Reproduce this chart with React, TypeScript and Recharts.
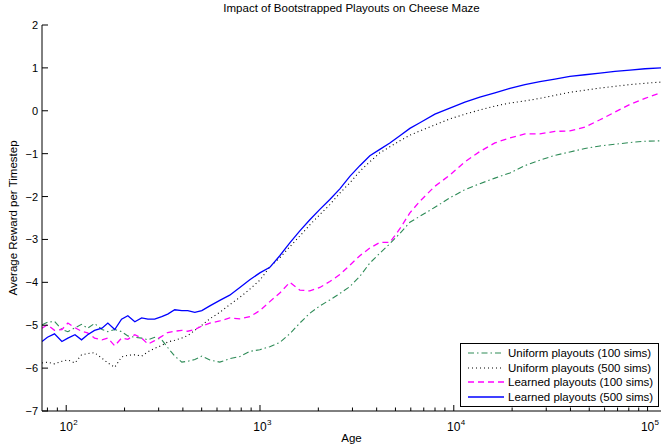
import React from 'react';
import { LineChart, Line, XAxis, YAxis, Legend } from 'recharts';

// agents' age (log scale) and average reward per timestep for each setup
const ages = [
  75, 80, 87, 95, 102, 111, 120, 129, 140, 153,
  164, 178, 193, 208, 226, 245, 264, 286, 311, 334,
  363, 395, 424, 461, 501, 551, 620, 698, 787, 886,
  998, 1124, 1265, 1425, 1605, 1808, 2036, 2293, 2582, 2908,
  3275, 3689, 4154, 4679, 5269, 5935, 6683, 7989, 9546, 11410,
  13630, 16300, 19480, 23280, 27820, 33250, 39740, 47510, 56790, 67870,
  81120, 96970, 117300,
];

const uniform100 = [
  -4.99, -4.93, -4.91, -5.1, -5.15, -5.06, -4.98, -5.07, -4.96, -5.1,
  -5.15, -5.1, -5.15, -5.25, -5.28, -5.3, -5.34, -5.28, -5.34, -5.52,
  -5.72, -5.86, -5.84, -5.8, -5.72, -5.81, -5.86, -5.78, -5.73, -5.61,
  -5.57, -5.5, -5.4, -5.2, -4.95, -4.72, -4.55, -4.41, -4.26, -4.1,
  -3.86, -3.55, -3.32, -3.1, -2.86, -2.6, -2.46, -2.25, -2.03, -1.84,
  -1.7, -1.57, -1.45, -1.28, -1.15, -1.04, -0.96, -0.88, -0.82, -0.78,
  -0.74, -0.71, -0.7,
];

const uniform500 = [
  -5.88, -5.86, -5.9, -5.84, -5.81, -5.88, -5.69, -5.66, -5.64, -5.77,
  -5.88, -5.98, -5.74, -5.7, -5.69, -5.72, -5.62, -5.54, -5.47, -5.39,
  -5.35, -5.3, -5.24, -5.12, -5.0, -4.85, -4.7, -4.52, -4.35, -4.16,
  -3.95, -3.64, -3.43, -3.17, -2.92, -2.66, -2.42, -2.19, -1.92, -1.68,
  -1.41, -1.19, -0.98, -0.84, -0.7, -0.57, -0.47, -0.33, -0.19, -0.08,
  0.02, 0.11, 0.18, 0.23, 0.29, 0.36, 0.43, 0.48, 0.53, 0.57,
  0.61, 0.64, 0.67,
];

const learned100 = [
  -5.07, -4.99, -5.12, -5.1, -4.95, -5.06, -5.14, -5.18, -5.3, -5.34,
  -5.3, -5.48, -5.3, -5.33, -5.22, -5.3, -5.44, -5.36, -5.26, -5.17,
  -5.14, -5.12, -5.14, -5.1, -5.02, -4.95, -4.9, -4.83, -4.85, -4.8,
  -4.66, -4.45, -4.25, -4.0, -4.18, -4.2, -4.12, -3.98, -3.82, -3.6,
  -3.38, -3.2, -3.07, -3.07, -2.75, -2.38, -2.11, -1.76, -1.5, -1.19,
  -0.95, -0.75, -0.63, -0.54, -0.54, -0.48, -0.47, -0.38, -0.21, -0.03,
  0.15, 0.29, 0.42,
];

const learned500 = [
  -5.38, -5.28, -5.2, -5.38, -5.3, -5.22, -5.34, -5.22, -5.12, -5.07,
  -4.95, -5.1, -4.86, -4.78, -4.92, -4.83, -4.86, -4.86, -4.8, -4.74,
  -4.64, -4.66, -4.66, -4.7, -4.66, -4.55, -4.42, -4.3, -4.12, -3.94,
  -3.78, -3.65, -3.38, -3.08, -2.8, -2.54, -2.3, -2.07, -1.82, -1.53,
  -1.28, -1.05, -0.9, -0.75, -0.58, -0.41, -0.28, -0.08, 0.06, 0.2,
  0.32, 0.42, 0.52, 0.61, 0.68, 0.74, 0.8, 0.84, 0.88, 0.92,
  0.95, 0.98, 1.0,
];

const xTicks = [
  80, 90,
  100, 200, 300, 400, 500, 600, 700, 800, 900,
  1000, 2000, 3000, 4000, 5000, 6000, 7000, 8000, 9000,
  10000, 20000, 30000, 40000, 50000, 60000, 70000, 80000, 90000,
  100000,
];
const yTicks = [-7, -6, -5, -4, -3, -2, -1, 0, 1, 2];

const series = [
  { key: 'u100', name: 'Uniform playouts (100 sims)', color: '#2e8b57', dash: '6 3 1.5 3', width: 1.1 },
  { key: 'u500', name: 'Uniform playouts (500 sims)', color: '#000000', dash: '1 3', width: 1.1 },
  { key: 'l100', name: 'Learned playouts (100 sims)', color: '#ff00ff', dash: '6 4', width: 1.3 },
  { key: 'l500', name: 'Learned playouts (500 sims)', color: '#0000ff', dash: undefined, width: 1.3 },
];

const data = ages.map((age, i) => ({
  age,
  u100: uniform100[i],
  u500: uniform500[i],
  l100: learned100[i],
  l500: learned500[i],
}));

const FONT = '"Liberation Sans", Arial, Helvetica, sans-serif';

// ticks point into the plot, matlab style; only decades get a label
const XTick = (props: any) => {
  const { x, y, payload } = props;
  const lg = Math.log10(payload.value);
  const exp = Math.round(lg);
  const major = Math.abs(lg - exp) < 1e-6;
  return (
    <g>
      <line x1={x} x2={x} y1={y} y2={y - (major ? 6 : 3.5)} stroke="#000" strokeWidth={1} />
      {major && (
        <text x={x} y={y + 20} textAnchor="middle" fontSize={12} fill="#000" style={{ fontFamily: FONT }}>
          10
        </text>
      )}
      {major && (
        <text x={x + 7} y={y + 14} textAnchor="start" fontSize={8} fill="#000" style={{ fontFamily: FONT }}>
          {exp}
        </text>
      )}
    </g>
  );
};

const YTick = (props: any) => {
  const { x, y, payload } = props;
  const v = payload.value;
  return (
    <g>
      <line x1={x} x2={x + 6} y1={y} y2={y} stroke="#000" strokeWidth={1} />
      <text x={x - 4} y={y + 4} textAnchor="end" fontSize={11} fill="#000" style={{ fontFamily: FONT }}>
        {v < 0 ? '\u2212' + Math.abs(v) : String(v)}
      </text>
    </g>
  );
};

const LegendBox = () => (
  <div
    style={{
      border: '1px solid #000',
      background: '#fff',
      padding: '2px 4px 2px 6px',
      fontFamily: FONT,
      fontSize: 11.5,
      lineHeight: '14.5px',
      boxSizing: 'border-box',
    }}
  >
    {series.map((s) => (
      <div key={s.key} style={{ display: 'flex', alignItems: 'center', whiteSpace: 'nowrap' }}>
        <svg width={38} height={10} style={{ marginRight: 3 }}>
          <line x1={1} x2={37} y1={5} y2={5} stroke={s.color} strokeWidth={s.width} strokeDasharray={s.dash} />
        </svg>
        <span>{s.name}</span>
      </div>
    ))}
  </div>
);

export default function App() {
  return (
    <div style={{ position: 'absolute', left: 0, top: 0, width: 665, height: 448, background: '#fff', fontFamily: FONT }}>
      <div style={{ position: 'absolute', left: 42, width: 619, top: 2, textAlign: 'center', fontSize: 11.5 }}>
        Impact of Bootstrapped Playouts on Cheese Maze
      </div>
      <div
        style={{
          position: 'absolute',
          left: 13,
          top: 218,
          transform: 'translate(-50%, -50%) rotate(-90deg)',
          whiteSpace: 'nowrap',
          fontSize: 11.5,
        }}
      >
        Average Reward per Timestep
      </div>
      <div style={{ position: 'absolute', left: 42, width: 619, top: 432, textAlign: 'center', fontSize: 11.5 }}>
        Age
      </div>
      <LineChart width={665} height={448} data={data} margin={{ top: 25, right: 4, left: 0, bottom: 0 }}>
        <XAxis
          dataKey="age"
          type="number"
          scale="log"
          domain={[75, 117300]}
          allowDataOverflow
          ticks={xTicks}
          interval={0}
          height={37}
          tickSize={0}
          tickMargin={0}
          tickLine={false}
          axisLine={{ stroke: '#000', strokeWidth: 1 }}
          tick={<XTick />}
        />
        <YAxis
          type="number"
          domain={[-7, 2]}
          ticks={yTicks}
          interval={0}
          width={42}
          tickSize={0}
          tickMargin={0}
          tickLine={false}
          axisLine={{ stroke: '#000', strokeWidth: 1 }}
          tick={<YTick />}
        />
        <Legend
          layout="vertical"
          align="center"
          verticalAlign="middle"
          wrapperStyle={{ left: 460, top: 343, width: 199 }}
          content={<LegendBox />}
        />
        {series.map((s) => (
          <Line
            key={s.key}
            dataKey={s.key}
            name={s.name}
            type="linear"
            stroke={s.color}
            strokeWidth={s.width}
            strokeDasharray={s.dash}
            dot={false}
            activeDot={false}
            isAnimationActive={false}
          />
        ))}
      </LineChart>
    </div>
  );
}
